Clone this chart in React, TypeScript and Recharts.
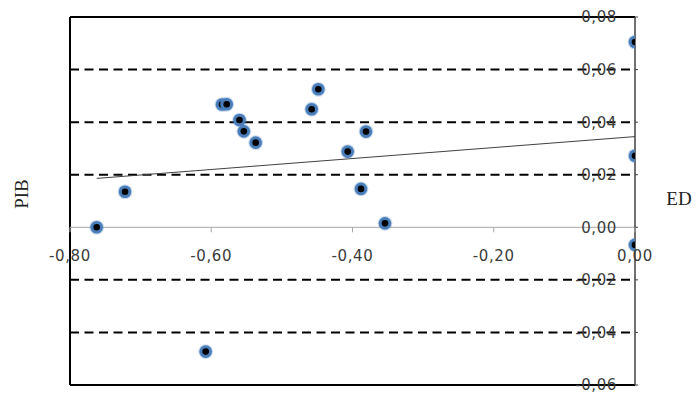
import React from 'react';
import { ScatterChart, Scatter, XAxis, YAxis, CartesianGrid, ReferenceLine } from 'recharts';

// ED (x) and PIB (y) values
const ED = [-0.7221, -0.5848, -0.5781, -0.56, -0.5539, -0.5371, -0.4578, -0.4484, -0.4068, -0.3809, -0.388, -0.354, -0.7622, -0.6079, 0, 0, 0];
const PIB = [0.0135, 0.0467, 0.0468, 0.0408, 0.0365, 0.0322, 0.0449, 0.0525, 0.0288, 0.0364, 0.0146, 0.0015, 0.0, -0.0473, 0.0705, 0.0272, -0.0067];

const TREND_ED = [-0.7622, 0];
const TREND_PIB = [0.0186, 0.0345];

const X_TICKS = [-0.8, -0.6, -0.4, -0.2, 0];
const Y_TICKS = [-0.06, -0.04, -0.02, 0, 0.02, 0.04, 0.06, 0.08];
const GRID_Y = [-0.04, -0.02, 0.02, 0.04, 0.06];

const X_MIN = -0.8, X_MAX = 0;
const Y_MIN = -0.06, Y_MAX = 0.08;

const W = 697, H = 396;
const PLOT_LEFT = 70, PLOT_RIGHT = 635, PLOT_TOP = 17, PLOT_BOTTOM = 385;
const Y_AXIS_W = 40;
const ZERO_Y = PLOT_TOP + (PLOT_BOTTOM - PLOT_TOP) * (Y_MAX / (Y_MAX - Y_MIN));

const points = ED.map((x, i) => ({ x, y: PIB[i] }));
const trend = TREND_ED.map((x, i) => ({ x, y: TREND_PIB[i] }));

const fmt = (v: number) => {
  const s = Math.abs(v) < 1e-9 ? '0.00' : v.toFixed(2);
  return s.replace('.', ',');
};

const tickFont = { fontFamily: 'DejaVu Sans', fontSize: 15, letterSpacing: 0.6, fill: '#3c3c3c' };

const XTick = (p: any) => (
  <g>
    <line x1={p.x} x2={p.x} y1={ZERO_Y} y2={ZERO_Y + 5} stroke="#a6a6a6" strokeWidth={1} />
    <text x={p.x} y={ZERO_Y + 34} textAnchor="middle" {...tickFont}>
      {fmt(p.payload.value)}
    </text>
  </g>
);

const YTick = (p: any) => (
  <text x={PLOT_RIGHT - 18} y={p.y} dy="0.36em" textAnchor="end" {...tickFont}>
    {fmt(p.payload.value)}
  </text>
);

const Dot = (p: any) => (
  <g>
    <circle cx={p.cx} cy={p.cy} r={7.4} fill="#4f81bd" fillOpacity={0.3} />
    <circle cx={p.cx} cy={p.cy} r={6.3} fill="#4a7ebb" />
    <circle cx={p.cx} cy={p.cy} r={3.3} fill="#000" />
  </g>
);

const NoDot = () => <g />;

export default function App() {
  return (
    <div style={{ position: 'absolute', left: 0, top: 0, width: W, height: H, background: '#fff' }}>
      <ScatterChart
        width={W}
        height={H}
        margin={{ top: PLOT_TOP, right: W - PLOT_RIGHT - Y_AXIS_W, bottom: 0, left: PLOT_LEFT }}
      >
        <CartesianGrid
          vertical={false}
          horizontalValues={GRID_Y}
          stroke="#000"
          strokeWidth={2}
          strokeDasharray="9 5.5"
        />
        <XAxis
          dataKey="x"
          type="number"
          domain={[X_MIN, X_MAX]}
          ticks={X_TICKS}
          interval={0}
          allowDataOverflow
          axisLine={false}
          tickLine={false}
          tick={XTick}
          height={H - PLOT_BOTTOM}
        />
        <YAxis
          dataKey="y"
          type="number"
          orientation="right"
          domain={[Y_MIN, Y_MAX]}
          ticks={Y_TICKS}
          interval={0}
          allowDataOverflow
          width={Y_AXIS_W}
          axisLine={{ stroke: '#404040', strokeWidth: 1.5 }}
          tickLine={{ stroke: '#404040' }}
          tickSize={3}
          tick={YTick}
        />
        <ReferenceLine x={X_MIN} stroke="#000" strokeWidth={2} />
        <ReferenceLine y={Y_MAX} stroke="#000" strokeWidth={2} />
        <ReferenceLine y={Y_MIN} stroke="#000" strokeWidth={2} />
        <ReferenceLine y={0} stroke="#a6a6a6" strokeWidth={1} />
        <Scatter data={trend} line={{ stroke: '#404040', strokeWidth: 1 }} shape={NoDot} isAnimationActive={false} />
        <Scatter data={points} shape={Dot} isAnimationActive={false} />
      </ScatterChart>
      <svg
        width={W}
        height={H}
        style={{ position: 'absolute', left: 0, top: 0, pointerEvents: 'none' }}
      >
        <text
          x={28}
          y={194}
          transform="rotate(-90 28 194)"
          textAnchor="middle"
          fontFamily="Liberation Serif"
          fontSize={19}
          fill="#222"
        >
          PIB
        </text>
        <text x={679} y={205} textAnchor="middle" fontFamily="Liberation Serif" fontSize={19} fill="#222">
          ED
        </text>
      </svg>
    </div>
  );
}
